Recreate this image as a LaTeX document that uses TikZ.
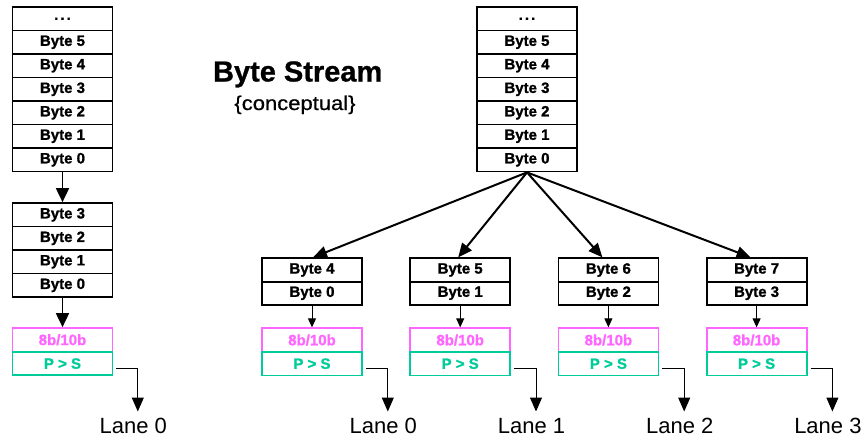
\documentclass[tikz,border=0pt]{standalone}
\usepackage{fontspec}
\setmainfont{Liberation Sans}
\newfontfamily\cellfont[FakeBold=1.2]{Liberation Sans Bold}
\newfontfamily\titlefont[FakeBold=0.8]{Liberation Sans Bold}
\newfontfamily\widefont[FakeStretch=1.1,FakeBold=0.6]{Liberation Sans}
\usetikzlibrary{arrows.meta}
\definecolor{encpink}{RGB}{255,102,255}
\definecolor{sergreen}{RGB}{0,204,153}
\begin{document}
\begin{tikzpicture}[x=1pt,y=-1pt,
  cell/.style={draw=black,line width=1.8pt,minimum width=100pt,minimum height=23.5pt,
    inner sep=0pt,font=\cellfont\fontsize{15}{15}\selectfont},
  enc/.style={cell,draw=encpink,text=encpink},
  ser/.style={cell,draw=sergreen,text=sergreen},
  bigflow/.style={line width=1.8pt,-{Triangle[length=14pt,width=13pt]}},
  smallflow/.style={line width=1pt,-{Triangle[length=9pt,width=8pt]}},
  fanflow/.style={line width=2pt,-{Triangle[length=14pt,width=12pt]}},
  lanewire/.style={line width=1pt,-{Triangle[length=14pt,width=12pt]}},
  lanelabel/.style={font=\fontsize{22}{22}\selectfont,inner sep=0pt,anchor=north,
    text height=16pt,text depth=0pt}
]
\useasboundingbox (0,0) rectangle (863,439);

% ---- single lane: stream, buffered bytes, encoder, serializer
\node[cell] (adots) at (62.5,18.75) {.\hspace{2pt}.\hspace{2pt}.};
\foreach \k in {5,...,0}
  \node[cell] (a\k) at (62.5,{159.75-23.5*\k}) {Byte \k};
\foreach \k in {3,...,0}
  \node[cell] (b\k) at (62.5,{285.3-23.5*\k}) {Byte \k};
\node[enc] (benc) at (62.5,339.8) {8b/10b};
\node[ser] (bser) at (62.5,363.6) {P > S};
\node[lanelabel] (blane) at (133.3,417) {Lane 0};
\draw[bigflow] (a0.south) -- (b3.north);
\draw[bigflow] (b0.south) -- (benc.north);
\draw[lanewire] ([xshift=3pt,yshift=-4.5pt]bser.east) -| ([xshift=4.5pt,yshift=5.5pt]blane.north);

% ---- title
\node[font=\titlefont\fontsize{29}{29}\selectfont,anchor=base] (title) at (297.7,81.5) {Byte Stream};
\node[font=\widefont\fontsize{20}{20}\selectfont,anchor=base] (subtitle) at (295,110) {\{conceptual\}};

% ---- four lanes: stream striped across lanes
\node[cell] (tdots) at (527,18.75) {.\hspace{2pt}.\hspace{2pt}.};
\foreach \k in {5,...,0}
  \node[cell] (t\k) at (527,{159.75-23.5*\k}) {Byte \k};

\foreach \i/\hi/\dx in {0/4/1,1/5/-2,2/6/-6,3/7/-6}{
  \pgfmathsetmacro{\cx}{312+148.2*\i}
  \node[cell] (g\i h) at (\cx,270) {Byte \hi};
  \node[cell] (g\i l) at (\cx,293.2) {Byte \i};
  \node[enc] (g\i e) at (\cx,340) {8b/10b};
  \node[ser] (g\i s) at (\cx,363.7) {P > S};
  \node[lanelabel] (g\i lane) at ({\cx+71.3},417) {Lane \i};
  \draw[fanflow] (t0.south) -- ([xshift=\dx pt]g\i h.north);
  \draw[smallflow] (g\i l.south) -- (g\i e.north);
  \draw[lanewire] ([xshift=3pt,yshift=-4.5pt]g\i s.east) -| ([xshift=4.5pt,yshift=5.5pt]g\i lane.north);
}
\end{tikzpicture}
\end{document}
